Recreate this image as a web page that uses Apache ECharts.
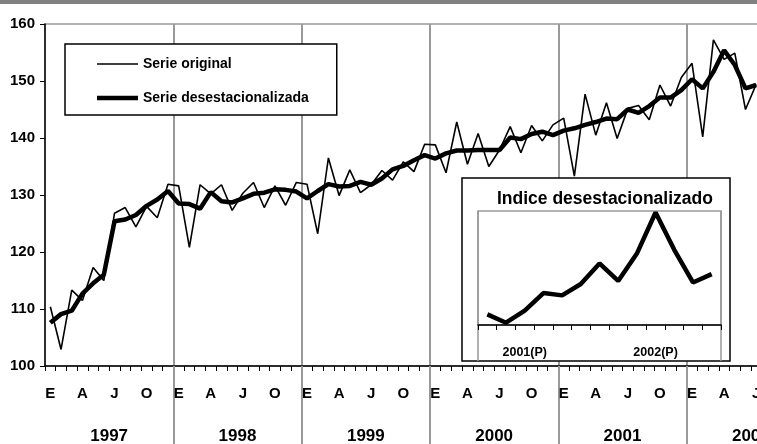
<!DOCTYPE html>
<html>
<head>
<meta charset="utf-8">
<script src="https://cdn.jsdelivr.net/npm/echarts@6.0.0/dist/echarts.min.js"></script>
<style>
html, body { margin: 0; padding: 0; background: #fff; }
#chart { width: 757px; height: 444px; }
</style>
</head>
<body>
<div id="chart"></div>
<script>
// años y meses del eje
var years = ['1997', '1998', '1999', '2000', '2001', '2002'];
var monthNames = ['Ene', 'Feb', 'Mar', 'Abr', 'May', 'Jun', 'Jul', 'Ago', 'Sep', 'Oct', 'Nov', 'Dic'];
var monthLetters = ['E', 'F', 'M', 'A', 'M', 'J', 'J', 'A', 'S', 'O', 'N', 'D'];

// serie original (ene 1997 - jul 2002)
var serieOriginal = [
	110.4, 102.9, 113.3, 111.5, 117.3, 115.0, 126.8, 127.8, 124.4, 128.0, 126.0, 131.9,
	131.6, 120.8, 131.8, 130.2, 131.8, 127.3, 130.3, 132.2, 127.8, 131.6, 128.2, 132.2,
	131.9, 123.2, 136.5, 129.9, 134.4, 130.4, 131.8, 134.3, 132.6, 135.8, 134.1, 138.9,
	138.8, 133.9, 142.8, 135.4, 140.8, 135.0, 137.9, 142.0, 137.4, 142.2, 139.5, 142.3,
	143.5, 133.3, 147.7, 140.5, 146.2, 139.9, 145.2, 145.7, 143.2, 149.3, 145.6, 150.6,
	153.1, 140.2, 157.2, 153.8, 154.9, 145.0, 149.4
];

// serie desestacionalizada
var serieDesest = [
	107.6, 109.1, 109.7, 112.7, 114.5, 116.0, 125.4, 125.7, 126.5, 128.1, 129.2, 130.7,
	128.5, 128.4, 127.6, 130.5, 128.9, 128.7, 129.4, 130.2, 130.4, 131.0, 130.9, 130.6,
	129.4, 130.7, 131.9, 131.5, 131.6, 132.3, 131.8, 132.9, 134.5, 135.1, 136.1, 137.0,
	136.4, 137.3, 137.8, 137.8, 137.9, 137.9, 137.9, 140.1, 139.8, 140.7, 141.1, 140.5,
	141.3, 141.7, 142.3, 142.8, 143.4, 143.3, 145.0, 144.4, 145.6, 147.1, 147.1, 148.4,
	150.3, 148.7, 151.6, 155.4, 152.8, 148.7, 149.3
];

// recuadro: jul 2001 - jul 2002
var insetCats = ['Jul01', 'Ago01', 'Sep01', 'Oct01', 'Nov01', 'Dic01',
	'Ene02', 'Feb02', 'Mar02', 'Abr02', 'May02', 'Jun02', 'Jul02'];
var insetValues = [142.4, 141.3, 142.9, 145.2, 144.9, 146.4, 149.1, 146.8, 150.4, 155.8, 150.9, 146.6, 147.7];
var insetLabels = {2: '2001(P)', 9: '2002(P)'};

var monthCats = [];
for (var y = 0; y < years.length; y++) {
	for (var m = 0; m < 12; m++) {
		monthCats.push(monthNames[m] + ' ' + years[y]);
	}
}

var FONT = '"Liberation Sans", Arial, sans-serif';
var GRIS = '#999';

var cc = echarts.init(document.getElementById('chart'));

var op = {
	animation: false,
	backgroundColor: '#fff',
	title: {
		text: 'Indice desestacionalizado',
		left: 497,
		top: 190,
		padding: 0,
		z: 110,
		textStyle: { fontFamily: FONT, fontWeight: 'bold', fontSize: 17.5, color: '#000' }
	},
	legend: {
		data: [
			{ name: 'Serie original', icon: 'path://M0,0H82V3H0Z', itemStyle: { borderWidth: 0 } },
			{ name: 'Serie desestacionalizada', icon: 'path://M0,0H82V9H0Z', itemStyle: { borderWidth: 0 } }
		],
		orient: 'vertical',
		left: 65,
		top: 44,
		itemWidth: 41,
		itemHeight: 14,
		itemGap: 14,
		padding: [10, 28, 7, 32],
		backgroundColor: '#fff',
		borderColor: '#000',
		borderWidth: 1.5,
		textStyle: { fontFamily: FONT, fontWeight: 'bold', fontSize: 14, color: '#000', lineHeight: 20 }
	},
	graphic: [
		{ type: 'rect', shape: { x: 0, y: 0, width: 757, height: 4 }, style: { fill: '#808080' }, z: 50 },
		{ type: 'rect', shape: { x: 462, y: 178, width: 268, height: 183 },
			style: { fill: '#fff', stroke: '#000', lineWidth: 1.5 }, z: 100 }
	],
	grid: [
		{ left: 45, top: 24, width: 770, height: 342, show: true, borderColor: GRIS, borderWidth: 1.5,
			outerBoundsMode: 'none', containLabel: false },
		{ left: 478, top: 211, width: 243, height: 114, show: true, borderColor: GRIS, borderWidth: 1.5, z: 101,
			outerBoundsMode: 'none', containLabel: false }
	],
	xAxis: [
		{	// meses
			gridIndex: 0,
			type: 'category',
			data: monthCats,
			position: 'bottom',
			axisLine: { lineStyle: { color: '#000', width: 1.5 } },
			axisTick: { show: true, interval: 0, length: 5, lineStyle: { color: '#000' } },
			axisLabel: {
				interval: function (i) { return i % 3 === 0; },
				formatter: function (v, i) { return monthLetters[i % 12]; },
				margin: 20,
				fontFamily: FONT, fontWeight: 'bold', fontSize: 15, color: '#000'
			},
			splitLine: { show: false }
		},
		{	// años, con las líneas separadoras
			gridIndex: 0,
			type: 'category',
			data: years,
			position: 'bottom',
			axisLine: { show: false },
			axisTick: { show: true, interval: function (i) { return i > 0; }, length: 78, lineStyle: { color: GRIS, width: 2 } },
			axisLabel: {
				interval: 0,
				margin: 62,
				fontFamily: FONT, fontWeight: 'bold', fontSize: 17, color: '#000'
			},
			splitLine: { show: true, interval: function (i) { return i > 0; }, lineStyle: { color: GRIS, width: 2 } }
		},
		{	// recuadro
			gridIndex: 1,
			type: 'category',
			data: insetCats,
			z: 103,
			axisLine: { lineStyle: { color: '#000', width: 1.5 } },
			axisTick: { show: true, interval: 0, length: 5, lineStyle: { color: '#000' } },
			axisLabel: {
				interval: function (i) { return insetLabels[i] !== undefined; },
				formatter: function (v, i) { return insetLabels[i] || ''; },
				margin: 21,
				fontFamily: FONT, fontWeight: 'bold', fontSize: 12.5, color: '#000'
			},
			splitLine: { show: false }
		},
		{	// separador de año en el recuadro
			gridIndex: 1,
			type: 'category',
			data: insetCats,
			position: 'bottom',
			z: 102,
			axisLine: { show: false },
			axisTick: { show: true, interval: function (i) { return i === 6; }, length: 36, lineStyle: { color: GRIS, width: 1.5 } },
			axisLabel: { show: false },
			splitLine: { show: true, interval: function (i) { return i === 6; }, lineStyle: { color: GRIS, width: 1.5 } }
		}
	],
	yAxis: [
		{
			gridIndex: 0,
			type: 'value',
			min: 100,
			max: 160,
			interval: 10,
			axisLine: { show: true, lineStyle: { color: '#000', width: 1.5 } },
			axisTick: { show: true, length: 5, lineStyle: { color: '#000' } },
			axisLabel: { margin: 10, fontFamily: FONT, fontWeight: 'bold', fontSize: 15, color: '#000' },
			splitLine: { show: false }
		},
		{
			gridIndex: 1,
			type: 'value',
			min: 141,
			max: 156,
			show: false,
			splitLine: { show: false }
		}
	],
	series: [
		{
			name: 'Serie original',
			type: 'line',
			xAxisIndex: 0,
			yAxisIndex: 0,
			data: serieOriginal,
			symbol: 'none',
			lineStyle: { color: '#000', width: 1.6 },
			itemStyle: { color: '#000' },
			z: 3
		},
		{
			name: 'Serie desestacionalizada',
			type: 'line',
			xAxisIndex: 0,
			yAxisIndex: 0,
			data: serieDesest,
			symbol: 'none',
			lineStyle: { color: '#000', width: 4.5 },
			itemStyle: { color: '#000' },
			z: 4
		},
		{
			name: 'Indice',
			type: 'line',
			xAxisIndex: 2,
			yAxisIndex: 1,
			data: insetValues,
			symbol: 'none',
			lineStyle: { color: '#000', width: 4.5 },
			itemStyle: { color: '#000' },
			z: 105
		}
	]
};

cc.setOption(op);
</script>
</body>
</html>
